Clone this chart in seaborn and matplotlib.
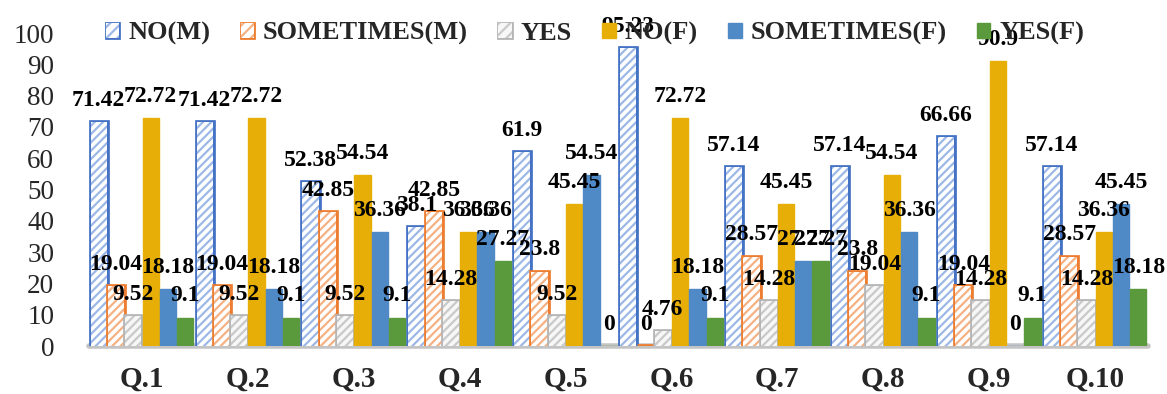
import matplotlib
matplotlib.use("Agg")
import matplotlib.pyplot as plt
import matplotlib.patheffects as pe
import matplotlib.patches as mpatches
import seaborn as sns
import pandas as pd

questions = ["Q.1", "Q.2", "Q.3", "Q.4", "Q.5", "Q.6", "Q.7", "Q.8", "Q.9", "Q.10"]
series = ["NO(M)", "SOMETIMES(M)", "YES", "NO(F)", "SOMETIMES(F)", "YES(F)"]

no_m = [71.42, 71.42, 52.38, 38.1, 61.9, 95.23, 57.14, 57.14, 66.66, 57.14]
sometimes_m = [19.04, 19.04, 42.85, 42.85, 23.8, 0, 28.57, 23.8, 19.04, 28.57]
yes_m = [9.52, 9.52, 9.52, 14.28, 9.52, 4.76, 14.28, 19.04, 14.28, 14.28]
no_f = [72.72, 72.72, 54.54, 36.36, 45.45, 72.72, 45.45, 54.54, 90.9, 36.36]
sometimes_f = [18.18, 18.18, 36.36, 36.36, 54.54, 18.18, 27.27, 36.36, 0, 45.45]
yes_f = [9.1, 9.1, 9.1, 27.27, 0, 9.1, 27.27, 9.1, 9.1, 18.18]

all_values = [no_m, sometimes_m, yes_m, no_f, sometimes_f, yes_f]

rows = []
for s, vals in zip(series, all_values):
    for q, v in zip(questions, vals):
        rows.append({"q": q, "s": s, "v": v})
df = pd.DataFrame(rows)

# (face, hatch colour, outline, hatch)
styles = [
    ("#ffffff", "#9db8e6", "#4472c4", "////"),
    ("#ffffff", "#f4b183", "#ed7d31", "////"),
    ("#f7f7f7", "#c9c9c9", "#b5b5b5", "////"),
    ("#e6ae06", None, None, ""),
    ("#4f89c6", None, None, ""),
    ("#5b9a3c", None, None, ""),
]
palette = {s: st[0] for s, st in zip(series, styles)}

sns.set_theme(style="white")
plt.rcParams["font.family"] = ["Liberation Serif", "DejaVu Serif"]
plt.rcParams["hatch.linewidth"] = 1.6

fig = plt.figure(figsize=(11.67, 3.94), dpi=100)
ax = fig.add_axes([0.0763, 0.1218, 0.9074, 0.7944])

sns.barplot(data=df, x="q", y="v", hue="s", hue_order=series, order=questions,
            palette=palette, saturation=1, width=0.98, gap=0.06, legend=False,
            ax=ax, zorder=2)

handles = []
for cont, st, s, vals in zip(ax.containers, styles, series, all_values):
    face, hcol, outline, hatch = st
    for p in cont.patches:
        if hatch:
            p.set_facecolor(face)
            p.set_edgecolor(hcol)
            p.set_hatch(hatch)
            p.set_linewidth(0)
            p.set_path_effects([pe.Stroke(linewidth=3.4, foreground=outline), pe.Normal()])
        else:
            p.set_facecolor(face)
            p.set_edgecolor(face)
            p.set_linewidth(1.0)
    ax.bar_label(cont, labels=[f"{v:g}" for v in vals], padding=8,
                 fontsize=17, fontweight="bold", color="black")
    if hatch:
        h = mpatches.Patch(facecolor=face, edgecolor=hcol, hatch="///", linewidth=0,
                           path_effects=[pe.Stroke(linewidth=2, foreground=outline), pe.Normal()])
    else:
        h = mpatches.Patch(facecolor=face, edgecolor=face)
    handles.append(h)

ax.axhline(0, color="#c4c4c4", lw=4, zorder=1, clip_on=False)

ax.set_xlim(-0.5, 9.5)
ax.set_ylim(0, 100)
ax.set_yticks(range(0, 101, 10))
ax.set_xlabel("")
ax.set_ylabel("")
for sp in ax.spines.values():
    sp.set_visible(False)
ax.tick_params(axis="y", length=0, pad=25, labelsize=19.5)
ax.tick_params(axis="x", length=0, pad=14)
for lab in ax.get_xticklabels():
    lab.set_fontsize(21)
    lab.set_fontweight("bold")
ax.grid(False)

fig.legend(handles, series, loc="upper center", bbox_to_anchor=(0.51, 0.995), ncol=6,
           frameon=False, prop={"family": "Liberation Serif", "weight": "bold", "size": 19},
           handlelength=0.5, handleheight=0.5, handletextpad=0.35, columnspacing=1.15,
           borderaxespad=0.35)

fig.savefig("out.png", dpi=100)
